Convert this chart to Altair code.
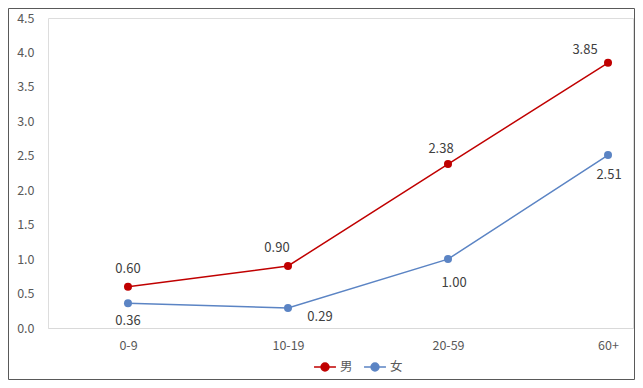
import altair as alt
import pandas as pd

categories = ["0-9", "10-19", "20-59", "60+"]
series = ["男", "女"]
male = [0.60, 0.90, 2.38, 3.85]
female = [0.36, 0.29, 1.00, 2.51]
colors = ["#C00000", "#5B84C4"]

rows = []
for i, c in enumerate(categories):
    rows.append({"age": c, "sex": "男", "v": male[i], "lbl": f"{male[i]:.2f}"})
    rows.append({"age": c, "sex": "女", "v": female[i], "lbl": f"{female[i]:.2f}"})
df = pd.DataFrame(rows)

FONT = "Noto Sans CJK SC"
TOP = 10
H = 310

x = alt.X("age:N", sort=categories, title=None,
          scale=alt.Scale(type="point", padding=0.328, align=0.762),
          axis=alt.Axis(labelAngle=0, ticks=False, domainColor="#D9D9D9",
                        labelPadding=11, labelFontSize=12.5, labelColor="#595959",
                        labelFont=FONT, grid=False))
y = alt.Y("v:Q", title=None,
          scale=alt.Scale(domain=[0, 4.5], nice=False),
          axis=alt.Axis(values=[0, 0.5, 1, 1.5, 2, 2.5, 3, 3.5, 4, 4.5], format=".1f",
                        ticks=False, domain=False, grid=False, labelPadding=14,
                        labelFontSize=12.5, labelColor="#595959", labelFont=FONT))
color = alt.Color("sex:N", sort=series,
                  scale=alt.Scale(domain=series, range=colors),
                  legend=alt.Legend(title=None, orient="none", direction="horizontal",
                                    legendX=265, legendY=H + 27,
                                    symbolType="M-1,0L1,0M0.36,0A0.36,0.36,0,1,1,-0.36,0A0.36,0.36,0,1,1,0.36,0Z",
                                    symbolSize=480, symbolStrokeWidth=1.5,
                                    labelFont=FONT, labelFontSize=12.5, labelColor="#595959",
                                    columnPadding=8, labelOffset=3))

base = alt.Chart(df)
lines = base.mark_line(strokeWidth=1.5).encode(x=x, y=y, color=color)
points = base.mark_circle(size=64, opacity=1).encode(x=x, y=y, color=color)

def labels(sex, age, dx, dy):
    return base.transform_filter(
        f"datum.sex == '{sex}' && datum.age == '{age}'"
    ).mark_text(dx=dx, dy=dy, fontSize=13, font=FONT, color="#404040").encode(
        x=x, y=y, text="lbl:N")

txt = [
    labels("男", "0-9", 0, -18),
    labels("男", "10-19", -11, -18),
    labels("男", "20-59", -7, -15),
    labels("男", "60+", -23, -13),
    labels("女", "0-9", 0, 18),
    labels("女", "10-19", 32, 9),
    labels("女", "20-59", 6, 24),
    labels("女", "60+", 1, 20),
]

frame = alt.Chart(pd.DataFrame({"a": [0]})).mark_rect(
    fill=None, stroke="#595959", strokeWidth=1, clip=False
).encode(x=alt.value(-39.5), x2=alt.value(586.5),
         y=alt.value(-TOP + 0.5), y2=alt.value(371.5 - TOP))

chart = alt.layer(lines, points, *txt, frame).properties(
    width=585, height=H,
    padding={"left": 40, "top": TOP, "right": 2, "bottom": 372 - TOP - H},
    autosize=alt.AutoSizeParams(type="none"),
).configure_view(stroke=None).configure(background="white")

chart.save("out.html", embed_options={"renderer": "svg", "actions": False})
